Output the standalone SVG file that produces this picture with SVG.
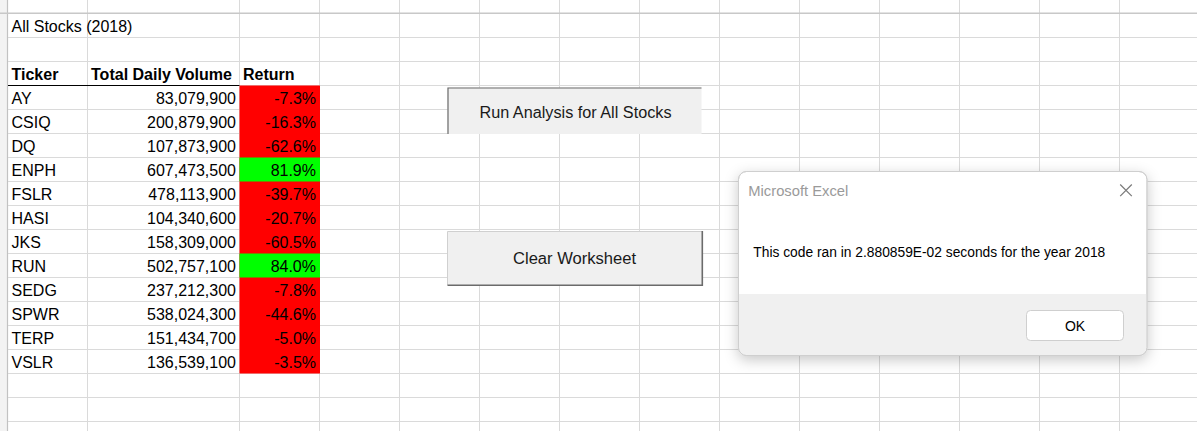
<svg xmlns="http://www.w3.org/2000/svg" width="1197" height="431" viewBox="0 0 1197 431">
<defs>
<style>
.g{stroke:#dadada;stroke-width:1;fill:none}
.c{font-family:"Liberation Sans",Arial,sans-serif;font-size:16px;fill:#000}
.b{font-weight:bold}
.r{text-anchor:end}
.btn{font-family:"Liberation Sans",Arial,sans-serif;font-size:16px;fill:#1a1a1a;text-anchor:middle}
.d{font-family:"Liberation Sans",Arial,sans-serif;font-size:14px}
</style>
<filter id="sh" x="-10%" y="-15%" width="120%" height="135%">
<feDropShadow dx="0" dy="4" stdDeviation="7" flood-color="#000" flood-opacity="0.22"/>
</filter>
</defs>
<rect width="1197" height="431" fill="#fff"/>
<g id="grid">
<rect x="0" y="0" width="7.5" height="431" fill="#f3f3f3"/>
<line x1="7.5" y1="0" x2="7.5" y2="431" stroke="#c2c2c2" stroke-width="1.2"/>
<path class="g" d="M87.5 0V431M239.5 0V431M319.5 0V431M399.5 0V431M479.5 0V431M559.5 0V431M639.5 0V431M719.5 0V431M799.5 0V431M879.5 0V431M959.5 0V431M1039.5 0V431M1119.5 0V431"/>
<path class="g" d="M8 37.5H1197M8 61.5H1197M239 85.5H1197M8 109.5H1197M8 133.5H1197M8 157.5H1197M8 181.5H1197M8 205.5H1197M8 229.5H1197M8 253.5H1197M8 277.5H1197M8 301.5H1197M8 325.5H1197M8 349.5H1197M8 373.5H1197M8 397.5H1197M8 421.5H1197"/>
<line x1="0" y1="13.2" x2="1197" y2="13.2" stroke="#c8c8c8" stroke-width="1.6"/>
<line x1="8" y1="85.5" x2="239.5" y2="85.5" stroke="#000" stroke-width="1"/>
</g>
<g id="returns-fill">
<rect x="239.5" y="85.5" width="80.5" height="288" fill="#ff0000"/>
<rect x="239.5" y="157.5" width="80.5" height="24" fill="#00ff00"/>
<rect x="239.5" y="253.5" width="80.5" height="24" fill="#00ff00"/>
</g>
<g id="title"><text class="c" x="11.5" y="32">All Stocks (2018)</text></g>
<g id="header">
<text class="c b" x="11.5" y="80">Ticker</text>
<text class="c b" x="91" y="80" textLength="141" lengthAdjust="spacingAndGlyphs">Total Daily Volume</text>
<text class="c b" x="243" y="80">Return</text>
</g>
<g id="table">
<text class="c" x="11.5" y="104.3">AY</text><text class="c r" x="236" y="104.3">83,079,900</text><text class="c r" x="316" y="104.3">-7.3%</text>
<text class="c" x="11.5" y="128.3">CSIQ</text><text class="c r" x="236" y="128.3">200,879,900</text><text class="c r" x="316" y="128.3">-16.3%</text>
<text class="c" x="11.5" y="152.3">DQ</text><text class="c r" x="236" y="152.3">107,873,900</text><text class="c r" x="316" y="152.3">-62.6%</text>
<text class="c" x="11.5" y="176.3">ENPH</text><text class="c r" x="236" y="176.3">607,473,500</text><text class="c r" x="316" y="176.3">81.9%</text>
<text class="c" x="11.5" y="200.3">FSLR</text><text class="c r" x="236" y="200.3">478,113,900</text><text class="c r" x="316" y="200.3">-39.7%</text>
<text class="c" x="11.5" y="224.3">HASI</text><text class="c r" x="236" y="224.3">104,340,600</text><text class="c r" x="316" y="224.3">-20.7%</text>
<text class="c" x="11.5" y="248.3">JKS</text><text class="c r" x="236" y="248.3">158,309,000</text><text class="c r" x="316" y="248.3">-60.5%</text>
<text class="c" x="11.5" y="272.3">RUN</text><text class="c r" x="236" y="272.3">502,757,100</text><text class="c r" x="316" y="272.3">84.0%</text>
<text class="c" x="11.5" y="296.3">SEDG</text><text class="c r" x="236" y="296.3">237,212,300</text><text class="c r" x="316" y="296.3">-7.8%</text>
<text class="c" x="11.5" y="320.3">SPWR</text><text class="c r" x="236" y="320.3">538,024,300</text><text class="c r" x="316" y="320.3">-44.6%</text>
<text class="c" x="11.5" y="344.3">TERP</text><text class="c r" x="236" y="344.3">151,434,700</text><text class="c r" x="316" y="344.3">-5.0%</text>
<text class="c" x="11.5" y="368.3">VSLR</text><text class="c r" x="236" y="368.3">136,539,100</text><text class="c r" x="316" y="368.3">-3.5%</text>
</g>
<g id="btn-run">
<rect x="447.5" y="87.5" width="254" height="46.5" fill="#f0f0f0"/>
<path d="M448 134V88H701.5" fill="none" stroke="#6b6b6b" stroke-width="1.2"/>
<text class="btn" x="575.5" y="118.3" textLength="192" lengthAdjust="spacingAndGlyphs">Run Analysis for All Stocks</text>
</g>
<g id="btn-clear">
<rect x="447.5" y="231.5" width="255" height="54" fill="#f0f0f0"/>
<path d="M447.5 285V231.5H702" fill="none" stroke="#d0d0d0" stroke-width="1"/>
<path d="M447.5 285.3H702.3V231" fill="none" stroke="#6b6b6b" stroke-width="1.6"/>
<text class="btn" x="574.5" y="264" textLength="123" lengthAdjust="spacingAndGlyphs">Clear Worksheet</text>
</g>
<g id="dialog">
<rect x="738.5" y="171.5" width="408.5" height="184" rx="8" fill="#fff" stroke="#cfcfcf" stroke-width="1" filter="url(#sh)"/>
<path d="M739 294H1146.5V347.5A7.5 7.5 0 0 1 1139 355H746.5A7.5 7.5 0 0 1 739 347.5Z" fill="#f0f0f0"/>
<rect x="738.5" y="171.5" width="408.5" height="184" rx="8" fill="none" stroke="#cfcfcf" stroke-width="1"/>
<text class="d" x="748.3" y="196" fill="#9a9a9a" font-size="14.5" textLength="100" lengthAdjust="spacingAndGlyphs">Microsoft Excel</text>
<path d="M1120.2 184.5L1131.8 196.1M1131.8 184.5L1120.2 196.1" stroke="#7a7a7a" stroke-width="1.2" fill="none"/>
<text class="d" x="753.3" y="256.7" fill="#000" textLength="352" lengthAdjust="spacingAndGlyphs">This code ran in 2.880859E-02 seconds for the year 2018</text>
<rect x="1026.5" y="310.5" width="97" height="30" rx="4" fill="#fff" stroke="#cfcfcf" stroke-width="1"/>
<text class="d" x="1075" y="330.7" fill="#000" text-anchor="middle" font-size="14.5">OK</text>
</g>
</svg>
